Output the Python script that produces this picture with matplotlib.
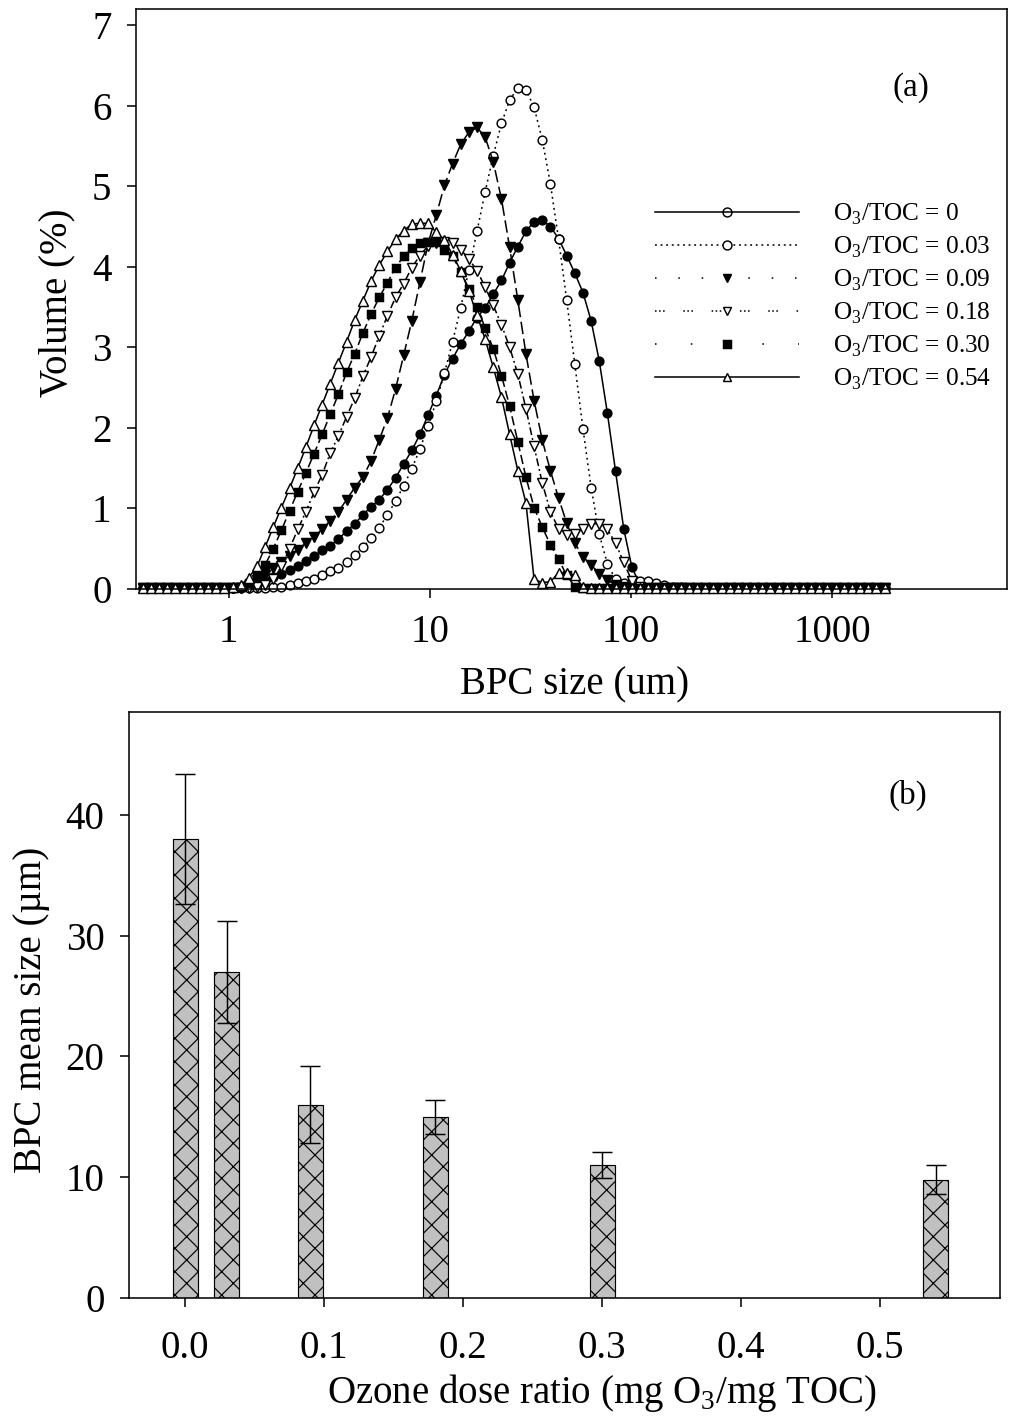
import matplotlib
matplotlib.use('Agg')
import matplotlib.pyplot as plt
from matplotlib.lines import Line2D

# fonts: Times-like serif everywhere
plt.rcParams['font.family'] = ['Liberation Serif', 'DejaVu Serif']
plt.rcParams['mathtext.fontset'] = 'custom'
plt.rcParams['mathtext.rm'] = 'Liberation Serif'
plt.rcParams['hatch.linewidth'] = 0.6

# ---- panel (a): particle size distribution (channel sizes, um) ----
sizes = [0.375, 0.412, 0.452, 0.496, 0.545, 0.598, 0.657, 0.721, 0.791, 0.869,
         0.954, 1.047, 1.149, 1.261, 1.385, 1.520, 1.669, 1.832, 2.011, 2.208,
         2.423, 2.660, 2.920, 3.206, 3.519, 3.862, 4.240, 4.655, 5.109, 5.608,
         6.157, 6.758, 7.418, 8.143, 8.939, 9.813, 10.77, 11.83, 12.98, 14.25,
         15.64, 17.17, 18.85, 20.69, 22.72, 24.94, 27.38, 30.05, 32.99, 36.21,
         39.75, 43.64, 47.90, 52.58, 57.72, 63.36, 69.55, 76.35, 83.81, 92.00,
         101.0, 110.9, 121.7, 133.6, 146.6, 161.0, 176.7, 194.0, 212.9, 233.7,
         256.6, 281.7, 309.2, 339.4, 372.6, 409.0, 449.0, 492.9, 541.1, 594.0,
         652.0, 715.7, 785.7, 862.5, 946.8, 1039, 1141, 1252, 1375, 1509,
         1657, 1819]

vol_0 = [0.01, 0.01, 0.01, 0.01, 0.01, 0.01, 0.01, 0.01, 0.01, 0.01,
         0.01, 0.01, 0.02, 0.03, 0.06, 0.10, 0.15, 0.19, 0.23, 0.28,
         0.35, 0.41, 0.48, 0.54, 0.62, 0.72, 0.81, 0.92, 1.02, 1.11,
         1.23, 1.38, 1.55, 1.72, 1.92, 2.16, 2.40, 2.66, 2.86, 3.04,
         3.20, 3.37, 3.49, 3.66, 3.83, 4.05, 4.25, 4.44, 4.56, 4.58,
         4.50, 4.35, 4.14, 3.92, 3.68, 3.33, 2.83, 2.18, 1.46, 0.75,
         0.27, 0.05, 0.01, 0.01, 0.01, 0.01, 0.01, 0.01, 0.01, 0.01,
         0.01, 0.01, 0.01, 0.01, 0.01, 0.01, 0.01, 0.01, 0.01, 0.01,
         0.01, 0.01, 0.01, 0.01, 0.01, 0.01, 0.01, 0.01, 0.01, 0.01,
         0.01, 0.01]

vol_003 = [0.01, 0.01, 0.01, 0.01, 0.01, 0.01, 0.01, 0.01, 0.01, 0.01,
           0.01, 0.01, 0.01, 0.01, 0.01, 0.01, 0.02, 0.03, 0.05, 0.07,
           0.10, 0.13, 0.17, 0.22, 0.26, 0.33, 0.42, 0.52, 0.63, 0.76,
           0.92, 1.09, 1.28, 1.49, 1.74, 2.02, 2.33, 2.68, 3.07, 3.49,
           3.96, 4.44, 4.93, 5.38, 5.78, 6.07, 6.22, 6.20, 5.98, 5.58,
           5.03, 4.35, 3.59, 2.79, 1.99, 1.26, 0.68, 0.31, 0.12, 0.07,
           0.09, 0.10, 0.10, 0.08, 0.05, 0.03, 0.02, 0.01, 0.01, 0.01,
           0.01, 0.01, 0.01, 0.01, 0.01, 0.01, 0.01, 0.01, 0.01, 0.01,
           0.01, 0.01, 0.01, 0.01, 0.01, 0.01, 0.01, 0.01, 0.01, 0.01,
           0.01, 0.01]

vol_009 = [0.01, 0.01, 0.01, 0.01, 0.01, 0.01, 0.01, 0.01, 0.01, 0.01,
           0.01, 0.01, 0.01, 0.04, 0.11, 0.17, 0.26, 0.33, 0.41, 0.49,
           0.57, 0.65, 0.74, 0.85, 0.96, 1.11, 1.26, 1.39, 1.59, 1.85,
           2.12, 2.48, 2.90, 3.33, 3.81, 4.29, 4.64, 5.01, 5.28, 5.52,
           5.67, 5.73, 5.61, 5.30, 4.84, 4.24, 3.59, 2.92, 2.34, 1.85,
           1.47, 1.13, 0.82, 0.57, 0.40, 0.30, 0.19, 0.11, 0.05, 0.02,
           0.01, 0.01, 0.01, 0.01, 0.01, 0.01, 0.01, 0.01, 0.01, 0.01,
           0.01, 0.01, 0.01, 0.01, 0.01, 0.01, 0.01, 0.01, 0.01, 0.01,
           0.01, 0.01, 0.01, 0.01, 0.01, 0.01, 0.01, 0.01, 0.01, 0.01,
           0.01, 0.01]

vol_018 = [0.01, 0.01, 0.01, 0.01, 0.01, 0.01, 0.01, 0.01, 0.01, 0.01,
           0.01, 0.01, 0.01, 0.01, 0.02, 0.05, 0.13, 0.28, 0.50, 0.74,
           0.96, 1.20, 1.42, 1.69, 1.90, 2.14, 2.37, 2.64, 2.88, 3.14,
           3.39, 3.62, 3.79, 3.99, 4.14, 4.26, 4.30, 4.31, 4.30, 4.21,
           4.10, 3.95, 3.75, 3.52, 3.28, 3.00, 2.67, 2.24, 1.77, 1.32,
           0.96, 0.75, 0.67, 0.68, 0.75, 0.81, 0.81, 0.74, 0.57, 0.33,
           0.10, 0.03, 0.01, 0.01, 0.01, 0.01, 0.01, 0.01, 0.01, 0.01,
           0.01, 0.01, 0.01, 0.01, 0.01, 0.01, 0.01, 0.01, 0.01, 0.01,
           0.01, 0.01, 0.01, 0.01, 0.01, 0.01, 0.01, 0.01, 0.01, 0.01,
           0.01, 0.01]

vol_030 = [0.01, 0.01, 0.01, 0.01, 0.01, 0.01, 0.01, 0.01, 0.01, 0.01,
           0.01, 0.01, 0.03, 0.08, 0.17, 0.30, 0.50, 0.73, 0.97, 1.21,
           1.44, 1.68, 1.92, 2.17, 2.42, 2.69, 2.92, 3.18, 3.41, 3.62,
           3.80, 3.99, 4.13, 4.23, 4.30, 4.31, 4.31, 4.21, 4.13, 3.94,
           3.73, 3.50, 3.24, 2.98, 2.65, 2.27, 1.83, 1.39, 1.01, 0.77,
           0.55, 0.37, 0.17, 0.03, 0.01, 0.01, 0.01, 0.01, 0.01, 0.01,
           0.01, 0.01, 0.01, 0.01, 0.01, 0.01, 0.01, 0.01, 0.01, 0.01,
           0.01, 0.01, 0.01, 0.01, 0.01, 0.01, 0.01, 0.01, 0.01, 0.01,
           0.01, 0.01, 0.01, 0.01, 0.01, 0.01, 0.01, 0.01, 0.01, 0.01,
           0.01, 0.01]

vol_054 = [0.01, 0.01, 0.01, 0.01, 0.01, 0.01, 0.01, 0.01, 0.01, 0.01,
           0.01, 0.02, 0.05, 0.14, 0.28, 0.52, 0.77, 1.01, 1.25, 1.50,
           1.76, 2.03, 2.29, 2.55, 2.81, 3.07, 3.34, 3.58, 3.82, 4.02,
           4.19, 4.34, 4.45, 4.53, 4.54, 4.54, 4.43, 4.33, 4.15, 3.95,
           3.70, 3.40, 3.10, 2.75, 2.38, 1.92, 1.47, 1.07, 0.12, 0.08,
           0.09, 0.20, 0.20, 0.17, 0.02, 0.01, 0.01, 0.01, 0.01, 0.01,
           0.01, 0.01, 0.01, 0.01, 0.01, 0.01, 0.01, 0.01, 0.01, 0.01,
           0.01, 0.01, 0.01, 0.01, 0.01, 0.01, 0.01, 0.01, 0.01, 0.01,
           0.01, 0.01, 0.01, 0.01, 0.01, 0.01, 0.01, 0.01, 0.01, 0.01,
           0.01, 0.01]

ratio_labels = ['0', '0.03', '0.09', '0.18', '0.30', '0.54']

# ---- panel (b): mean size vs ozone dose ----
dose = [0.0, 0.03, 0.09, 0.18, 0.30, 0.54]
mean_size = [38.0, 27.0, 16.0, 15.0, 11.0, 9.8]
mean_err = [5.4, 4.2, 3.2, 1.4, 1.1, 1.2]

DPI = 140
W, H = 1009, 1423
fig = plt.figure(figsize=(W / DPI, H / DPI), dpi=DPI)


def px_axes(left, top, right, bottom):
    return fig.add_axes([left / W, 1 - bottom / H, (right - left) / W, (bottom - top) / H])


lw = 0.8
ax1 = px_axes(136, 9, 1007, 589)

styles = [
    dict(ls='-', marker='o', mfc='black', ms=4.5),
    dict(ls=(0, (1.2, 2.4)), marker='o', mfc='white', ms=4.5),
    dict(ls=(0, (8, 3)), marker='v', mfc='black', ms=5.0),
    dict(ls=(0, (5, 2, 1.2, 2)), marker='v', mfc='white', ms=5.0),
    dict(ls=(0, (6, 2.5)), marker='s', mfc='black', ms=4.0),
    dict(ls='-', marker='^', mfc='white', ms=5.0),
]
series = [vol_0, vol_003, vol_009, vol_018, vol_030, vol_054]
for vals, st in zip(series, styles):
    ax1.plot(sizes, vals, color='black', lw=lw, mec='black', mew=0.75,
             clip_on=False, **st)

ax1.set_xscale('log')
ax1.set_xlim(0.347, 7385)
ax1.set_ylim(0, 7.2)
ax1.set_xticks([1, 10, 100, 1000])
ax1.set_xticklabels(['1', '10', '100', '1000'])
ax1.xaxis.set_minor_locator(matplotlib.ticker.NullLocator())
ax1.set_yticks(range(0, 8))
ax1.tick_params(direction='out', length=4.6, width=0.8, labelsize=20, pad=8,
                top=False, right=False)
for s in ax1.spines.values():
    s.set_linewidth(0.8)

# legend drawn to look like the original's
leg_styles = [
    dict(ls='-', marker='o', mfc='none'),
    dict(ls=(0, (1.2, 2.4)), marker='o', mfc='white'),
    dict(ls=(0, (1, 14)), marker='v', mfc='black'),
    dict(ls=(0, (1, 1.6, 1, 1.6, 1, 12)), marker='v', mfc='white'),
    dict(ls=(0, (1, 22)), marker='s', mfc='black'),
    dict(ls='-', marker='^', mfc='white'),
]
handles = [Line2D([], [], color='black', lw=lw, mec='black', mew=0.75, ms=4.6, **st)
           for st in leg_styles]
labels = ['O$_\\mathregular{3}$/TOC = ' + r for r in ratio_labels]
ax1.legend(handles, labels, loc='upper left', bbox_to_anchor=((655 - 136) / 871, (589 - 202) / 580),
           frameon=False, fontsize=13, handlelength=5.7, handletextpad=1.35,
           labelspacing=0.31, borderpad=0, borderaxespad=0, numpoints=1)

fig.text(911 / W, 1 - 88 / H, '(a)', fontsize=17, ha='center', va='center')
fig.text(57 / W, 1 - 303 / H, 'Volume (%)', fontsize=20, rotation=90, ha='center', va='center')
fig.text(575 / W, 1 - 685 / H, 'BPC size (um)', fontsize=20, ha='center', va='center')

# ---- panel (b) ----
ax2 = px_axes(129, 712, 1000, 1298)
ax2.bar(dose, mean_size, width=0.018, color='#c0c0c0', edgecolor='black', lw=0.6,
        hatch='xx', zorder=2)
ax2.errorbar(dose, mean_size, yerr=mean_err, fmt='none', ecolor='black',
             elinewidth=0.75, capsize=5, capthick=0.75, zorder=3)
ax2.set_xlim(-0.0403, 0.5863)
ax2.set_ylim(0, 48.5)
ax2.set_xticks([0.0, 0.1, 0.2, 0.3, 0.4, 0.5])
ax2.set_xticklabels(['0.0', '0.1', '0.2', '0.3', '0.4', '0.5'])
ax2.set_yticks([0, 10, 20, 30, 40])
ax2.tick_params(direction='out', length=4.6, width=0.8, labelsize=20, top=False, right=False)
ax2.tick_params(axis='x', pad=12)
ax2.tick_params(axis='y', pad=8)
for s in ax2.spines.values():
    s.set_linewidth(0.8)

fig.text(908 / W, 1 - 795 / H, '(b)', fontsize=17, ha='center', va='center')
fig.text(32 / W, 1 - 1010 / H, 'BPC mean size (\u00b5m)', fontsize=20, rotation=90,
         ha='center', va='center')
fig.text(602 / W, 1 - 1393 / H, 'Ozone dose ratio (mg O$_\\mathregular{3}$/mg TOC)',
         fontsize=20, ha='center', va='center')

fig.savefig('out.png', dpi=DPI)
